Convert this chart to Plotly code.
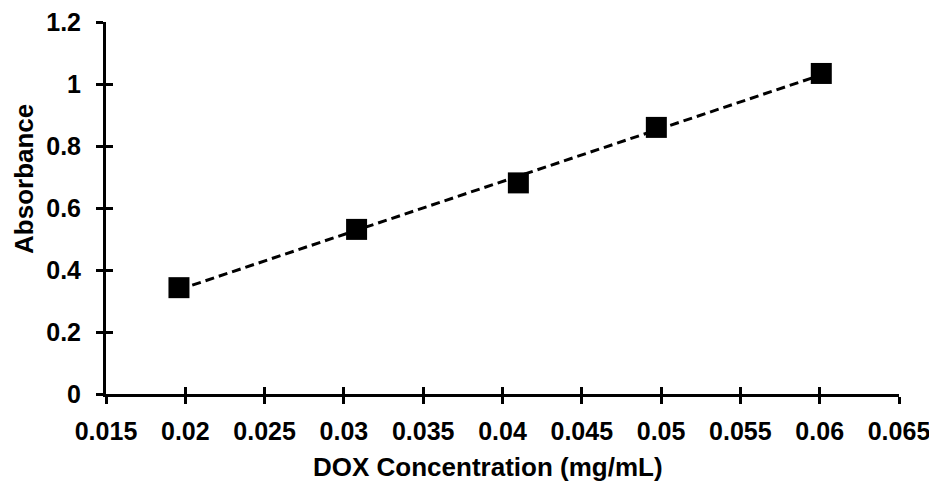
import numpy as np
import plotly.graph_objects as go

conc = [0.0196, 0.0308, 0.0410, 0.0497, 0.0601]
absorb = [0.343, 0.531, 0.681, 0.860, 1.034]

x_ticks = [0.015, 0.02, 0.025, 0.03, 0.035, 0.04, 0.045, 0.05, 0.055, 0.06, 0.065]
x_labels = ["0.015", "0.02", "0.025", "0.03", "0.035", "0.04", "0.045", "0.05", "0.055", "0.06", "0.065"]
y_ticks = [0, 0.2, 0.4, 0.6, 0.8, 1.0, 1.2]
y_labels = ["0", "0.2", "0.4", "0.6", "0.8", "1", "1.2"]
x_title = "DOX Concentration (mg/mL)"
y_title = "Absorbance"

slope, intercept = np.polyfit(conc, absorb, 1)
fit_x = [min(conc), max(conc)]
fit_y = [slope * v + intercept for v in fit_x]

FAM = "Liberation Sans, Arial, sans-serif"
tick_font = dict(family=FAM, size=25, color="black")
title_font = dict(family=FAM, size=26, color="black")

fig = go.Figure()
fig.add_trace(go.Scatter(x=fit_x, y=fit_y, mode="lines",
                         line=dict(color="black", width=3, dash="9px,5px"),
                         showlegend=False, hoverinfo="skip"))
fig.add_trace(go.Scatter(x=conc, y=absorb, mode="markers",
                         marker=dict(symbol="square", size=21, color="black"),
                         showlegend=False))
# invisible trace for overlay axes (inner half of crossing ticks)
fig.add_trace(go.Scatter(x=[0.03], y=[0.5], xaxis="x2", yaxis="y2", mode="markers",
                         marker=dict(opacity=0), showlegend=False, hoverinfo="skip"))

common = dict(showgrid=False, zeroline=False, showline=True, linecolor="black",
              linewidth=3, tickcolor="black", tickwidth=3, ticklen=7, automargin=False)

fig.update_layout(
    width=921, height=477,
    margin=dict(l=98, r=30, t=14, b=91),
    paper_bgcolor="white", plot_bgcolor="white",
    font=tick_font,
    xaxis=dict(range=[0.015, 0.065], tickvals=x_ticks,
               ticktext=["<b>%s</b>" % t for t in x_labels], ticks="outside",
               ticklabeloverflow="allow", ticklabelstandoff=6,
               tickfont=tick_font, **common),
    yaxis=dict(range=[0, 1.2], tickvals=y_ticks,
               ticktext=["<b>%s</b>" % t for t in y_labels], ticks="outside",
               ticklabeloverflow="allow", ticklabelstandoff=10,
               tickfont=tick_font, **common),
    xaxis2=dict(range=[0.015, 0.065], tickvals=x_ticks, ticks="inside", showticklabels=False,
                overlaying="x", anchor="y2", side="bottom", **common),
    yaxis2=dict(range=[0, 1.2], tickvals=y_ticks, ticks="inside", showticklabels=False,
                overlaying="y", anchor="x2", side="left", **common),
    annotations=[
        dict(text="<b>%s</b>" % x_title, xref="paper", yref="paper", x=0.482, y=-0.196,
             xanchor="center", yanchor="middle", showarrow=False, font=title_font),
        dict(text="<b>%s</b>" % y_title, xref="paper", yref="paper", x=-0.1034, y=0.578,
             xanchor="center", yanchor="middle", showarrow=False, font=title_font,
             textangle=-90),
    ],
)

fig.write_html("out.html")
